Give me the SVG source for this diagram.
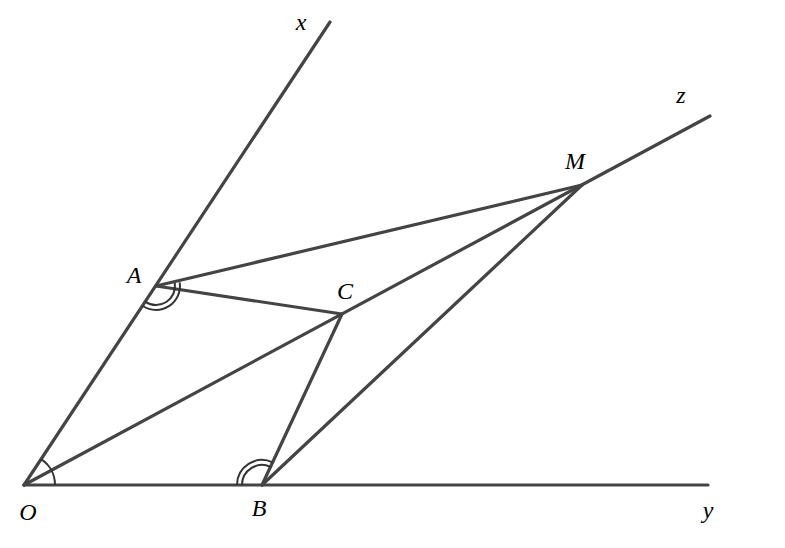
<svg xmlns="http://www.w3.org/2000/svg" width="785" height="548" viewBox="0 0 785 548">
<style>
.ln{stroke:#444;stroke-width:3.2;stroke-linecap:round;fill:none}
.arc{stroke:#333;stroke-width:2;fill:none}
.lb{font-family:"Liberation Serif",serif;font-style:italic;font-size:24px;fill:#000;text-anchor:middle}
</style>
<rect width="785" height="548" fill="#fff"/>
<g id="connectors">
<line class="ln" x1="24" y1="485" x2="330" y2="22"/>
<line class="ln" x1="24" y1="485" x2="708" y2="485"/>
<line class="ln" x1="24" y1="485" x2="710" y2="116"/>
<line class="ln" x1="156" y1="286" x2="582" y2="185"/>
<line class="ln" x1="156" y1="286" x2="342" y2="314"/>
<line class="ln" x1="262" y1="485" x2="342" y2="314"/>
<line class="ln" x1="262" y1="485" x2="582" y2="185"/>
</g>
<g id="angles">
<path class="arc" d="M55,485 A31,31 0 0 0 41.1,459.1"/>
<path class="arc" d="M142.8,306.0 A24,24 0 0 0 179.7,282.3"/>
<path class="arc" d="M145.5,301.8 A19,19 0 0 0 174.8,283.0"/>
<path class="arc" d="M237,485 A25,25 0 0 1 272.6,462.4"/>
<path class="arc" d="M242,485 A20,20 0 0 1 270.5,466.9"/>
</g>
<g id="O"><text class="lb" x="28" y="520">O</text></g>
<g id="A"><text class="lb" x="134" y="283">A</text></g>
<g id="C"><text class="lb" x="345" y="299">C</text></g>
<g id="M"><text class="lb" x="575" y="169">M</text></g>
<g id="B"><text class="lb" x="259" y="516">B</text></g>
<g id="x"><text class="lb" x="301" y="30">x</text></g>
<g id="z"><text class="lb" x="681" y="103">z</text></g>
<g id="y"><text class="lb" x="708" y="518">y</text></g>
</svg>
